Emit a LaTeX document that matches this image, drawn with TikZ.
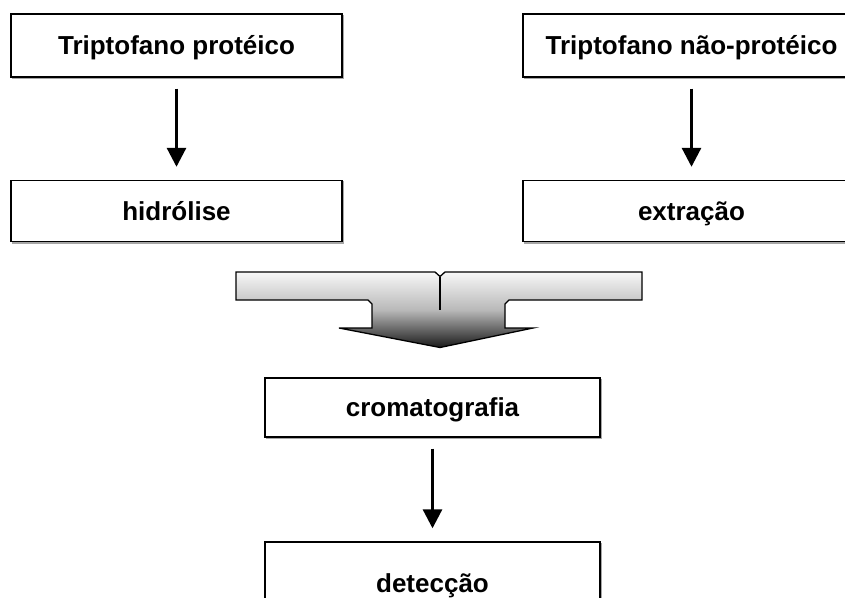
\documentclass[tikz,border=0pt]{standalone}
\usepackage{fontspec}
\setmainfont{Liberation Sans}
\usetikzlibrary{arrows.meta}
\begin{document}
\begin{tikzpicture}[x=1pt,y=-1pt,
  box/.style={draw=black, line width=1.4pt, fill=white, inner sep=0pt,
    text height=20pt, text depth=2pt,
    font=\fontsize{26}{30}\selectfont\bfseries,
    preaction={draw=gray!70, line width=1.4pt, transform canvas={shift={(1.3pt,-1.3pt)}}}},
  flow/.style={line width=3pt, -{Triangle[width=19pt,length=19pt]}, shorten <=11pt, shorten >=13pt}]
\useasboundingbox (0,0) rectangle (845,597);
\clip (0,0) rectangle (845,597);
\fill[white] (0,0) rectangle (845,597);

\node[box, minimum width=331pt, minimum height=63pt] (tp) at (176.5,45.5) {Triptofano protéico};
\node[box, minimum width=331pt, minimum height=61pt] (hi) at (176.5,211) {hidrólise};
\node[box, minimum width=337pt, minimum height=63pt] (tn) at (691.5,45.5) {Triptofano não-protéico};
\node[box, minimum width=337pt, minimum height=61pt] (ex) at (691.5,211) {extração};
\node[box, minimum width=335pt, minimum height=59pt] (cr) at (432.5,407.5) {cromatografia};
\node[box, minimum width=335pt, minimum height=82pt] (de) at (432.5,583) {detecção};

\draw[flow] (tp) -- (hi);
\draw[flow] (tn) -- (ex);
\draw[flow] (cr) -- (de);

% merging block arrow
\draw[line width=1.3pt, top color=gray!6, bottom color=black!90, middle color=gray!55]
  (236,272) -- (435,272) -- (440,276.5) -- (445,272) -- (642,272) -- (642,300)
  -- (509,300) -- (505,304) -- (505,328) -- (533,328) -- (440,347.5)
  -- (339,328) -- (372,328) -- (372,304) -- (368,300) -- (236,300) -- cycle;
\draw[line width=1.3pt] (440,276.5) -- (440,310);
\end{tikzpicture}
\end{document}
